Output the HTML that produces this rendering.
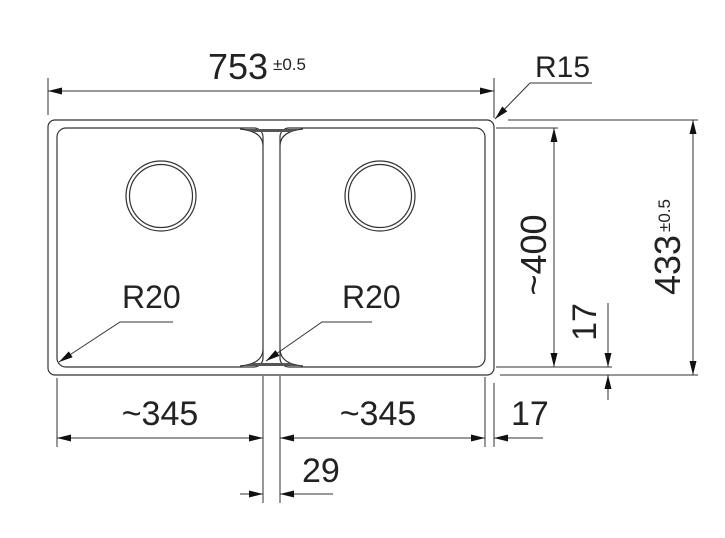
<!DOCTYPE html>
<html><head><meta charset="utf-8"><style>
html,body{margin:0;padding:0;background:#fff}
svg{display:block}
text{font-family:"Liberation Sans",sans-serif;fill:#222}
</style></head><body>
<svg width="725" height="538" viewBox="0 0 725 538" xmlns="http://www.w3.org/2000/svg">
<defs>
<marker id="a" viewBox="0 0 12 6" refX="12" refY="3" markerWidth="18" markerHeight="7" markerUnits="userSpaceOnUse" orient="auto-start-reverse"><path d="M0,0 L12,3 L0,6 z" fill="#111"/></marker>
</defs>
<g fill="none" stroke="#333" stroke-width="1.2">
<rect x="48" y="120" width="446" height="255" rx="7"/>
<rect x="57" y="128" width="206" height="239" rx="9"/>
<rect x="280" y="128" width="205" height="239" rx="9"/>
<path d="M240,129 Q262,131 263,145 M303,129 Q281,131 280,145" />
<path d="M240,366 Q262,364 263,350 M303,366 Q281,364 280,350" />
<circle cx="161" cy="196" r="35"/><circle cx="161" cy="196" r="31.5"/>
<circle cx="380" cy="196" r="35"/><circle cx="380" cy="196" r="31.5"/>
</g>
<g fill="#555"><path d="M245,129 L298,129 L290,132 L253,132z"/><path d="M245,366 L298,366 L290,363 L253,363z"/></g>
<g fill="none" stroke="#333" stroke-width="1">
<line x1="48" y1="78" x2="48" y2="115"/><line x1="494" y1="78" x2="494" y2="118"/>
<line x1="48" y1="91" x2="494" y2="91" marker-start="url(#a)" marker-end="url(#a)"/>
<polyline points="592,83 530,83 495,119" marker-end="url(#a)"/>
<line x1="508" y1="120" x2="698" y2="120"/>
<line x1="496" y1="128" x2="558" y2="128"/>
<line x1="496" y1="367" x2="612" y2="367"/>
<line x1="500" y1="375" x2="698" y2="375"/>
<line x1="554" y1="128" x2="554" y2="367" marker-start="url(#a)" marker-end="url(#a)"/>
<line x1="693" y1="120" x2="693" y2="375" marker-start="url(#a)" marker-end="url(#a)"/>
<line x1="608" y1="303" x2="608" y2="367" marker-end="url(#a)"/>
<line x1="608" y1="400" x2="608" y2="375" marker-end="url(#a)"/>
<polyline points="173,322 120,322 59,362" marker-end="url(#a)"/>
<polyline points="372,322 322,322 266,361" marker-end="url(#a)"/>
<line x1="57" y1="378" x2="57" y2="447"/>
<line x1="263" y1="376" x2="263" y2="503"/>
<line x1="280" y1="376" x2="280" y2="503"/>
<line x1="485" y1="377" x2="485" y2="447"/>
<line x1="494" y1="383" x2="494" y2="447"/>
<line x1="57" y1="438" x2="263" y2="438" marker-start="url(#a)" marker-end="url(#a)"/>
<line x1="280" y1="438" x2="485" y2="438" marker-start="url(#a)" marker-end="url(#a)"/>
<line x1="543" y1="438" x2="494" y2="438" marker-end="url(#a)"/>
<line x1="240" y1="494" x2="263" y2="494" marker-end="url(#a)"/>
<line x1="333" y1="494" x2="280" y2="494" marker-end="url(#a)"/>
</g>
<text x="208" y="79" font-size="36">753</text>
<text x="273" y="70" font-size="17">±0.5</text>
<text x="535" y="77" font-size="30">R15</text>
<text x="122" y="308" font-size="32">R20</text>
<text x="342" y="308" font-size="32">R20</text>
<text x="160" y="425" font-size="34" text-anchor="middle">~345</text>
<text x="378" y="425" font-size="34" text-anchor="middle">~345</text>
<text x="511" y="425" font-size="34">17</text>
<text x="302" y="482" font-size="34">29</text>
<text transform="translate(546,255) rotate(-90)" font-size="36" text-anchor="middle">~400</text>
<text transform="translate(596,322) rotate(-90)" font-size="34" text-anchor="middle">17</text>
<text transform="translate(680,295) rotate(-90)" font-size="36">433</text>
<text transform="translate(670,232) rotate(-90)" font-size="17">±0.5</text>
</svg>
</body></html>
